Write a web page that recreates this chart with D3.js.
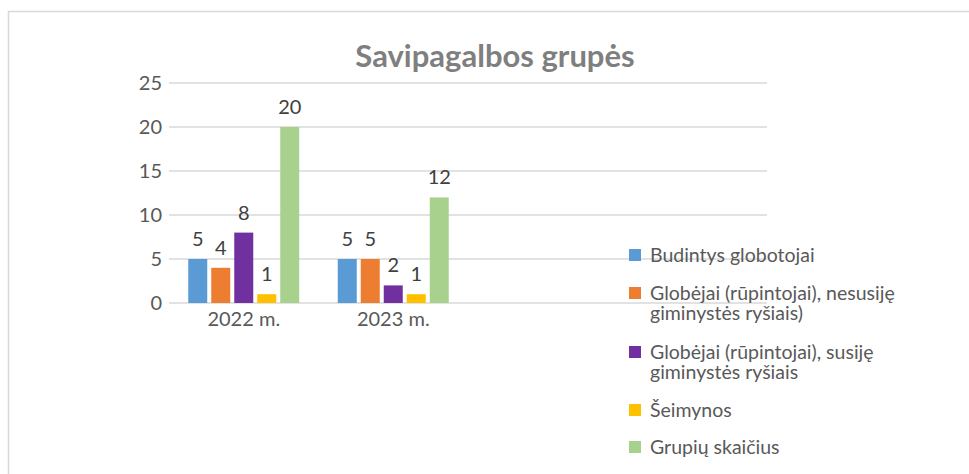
<!DOCTYPE html>
<html>
<head>
<meta charset="utf-8">
<script src="https://cdn.jsdelivr.net/npm/d3@7"></script>
<style>
  body { margin: 0; background: #fff; }
  text { font-family: Lato, "Open Sans", sans-serif; }
</style>
</head>
<body>
<div id="chart-area"></div>
<script>
var categories = ["2022 m.", "2023 m.", "", " "];
var seriesNames = [
    ["Budintys globotojai"],
    ["Globėjai (rūpintojai), nesusiję", "giminystės ryšiais)"],
    ["Globėjai (rūpintojai), susiję", "giminystės ryšiais"],
    ["Šeimynos"],
    ["Grupių skaičius"]
];
var seriesValues = [
    [5, 5],
    [4, 5],
    [8, 2],
    [1, 1],
    [20, 12]
];
var colors = ["#5B9BD5", "#ED7D31", "#7030A0", "#FFC000", "#A9D18E"];
var yTicks = [0, 5, 10, 15, 20, 25];

var W = 969, H = 474;
var margin = {top: 83, left: 169, bottom: 171, right: 202},
    width = W - margin.left - margin.right,
    height = H - margin.top - margin.bottom;

var svg = d3.select("#chart-area").append("svg")
    .attr("width", W)
    .attr("height", H)

// chart border
svg.append("rect")
    .attr("x", 8.5).attr("y", 11.5)
    .attr("width", W + 20).attr("height", H + 20)
    .attr("fill", "none")
    .attr("stroke", "#d9d9d9")
    .attr("stroke-width", 1.5)

svg.append("text")
    .attr("x", 495).attr("y", 67)
    .attr("text-anchor", "middle")
    .attr("font-size", "31px")
    .attr("font-weight", "bold")
    .attr("fill", "#7f7f7f")
    .text("Savipagalbos grupės")

var g = svg.append("g")
    .attr("transform", "translate(" + margin.left + ", " + margin.top + ")");

var x = d3.scaleBand().domain(categories).range([0, width]);
var y = d3.scaleLinear().domain([0, 25]).range([height, 0]);

var barW = 19, barStep = 23;
var groupW = barStep * 4 + barW;

// gridlines
g.selectAll(".grid").data(yTicks).enter().append("line")
    .attr("x1", 0).attr("x2", width)
    .attr("y1", d => y(d)).attr("y2", d => y(d))
    .attr("stroke", "#d9d9d9")
    .attr("stroke-width", 1.5)

var yAxis = g.append("g")
    .call(d3.axisLeft(y).tickValues(yTicks).tickSize(0).tickPadding(7))
yAxis.select(".domain").remove()
yAxis.selectAll("text")
    .attr("font-size", "20px")
    .attr("fill", "#595959")
    .style("font-family", "Lato, sans-serif")

var xAxis = g.append("g")
    .attr("transform", "translate(0, " + height + ")")
    .call(d3.axisBottom(x).tickSize(0).tickPadding(9))
xAxis.select(".domain").remove()
xAxis.selectAll("text")
    .attr("font-size", "20px")
    .attr("fill", "#595959")
    .style("font-family", "Lato, sans-serif")

seriesValues.forEach((vals, si) => {
    var s = g.append("g");
    s.selectAll("rect").data(vals).enter().append("rect")
        .attr("x", (d, i) => x(categories[i]) + x.bandwidth() / 2 - groupW / 2 + si * barStep)
        .attr("y", d => y(d))
        .attr("width", barW)
        .attr("height", d => height - y(d))
        .attr("fill", colors[si])
    s.selectAll("text").data(vals).enter().append("text")
        .attr("x", (d, i) => x(categories[i]) + x.bandwidth() / 2 - groupW / 2 + si * barStep + barW / 2)
        .attr("y", d => y(d) - 13)
        .attr("text-anchor", "middle")
        .attr("font-size", "20px")
        .attr("fill", "#404040")
        .text(d => d)
})

// legend, wrapped lines as separate texts
var legendY = [255, 293, 352, 410, 447];
var legend = svg.append("g")
seriesNames.forEach((lines, i) => {
    legend.append("rect")
        .attr("x", 629).attr("y", legendY[i] - 6)
        .attr("width", 12).attr("height", 12)
        .attr("fill", colors[i])
    lines.forEach((ln, k) => {
        legend.append("text")
            .attr("x", 650).attr("y", legendY[i] + 20 * k)
            .attr("dy", "0.35em")
            .attr("font-size", "19.5px")
            .attr("fill", "#595959")
            .text(ln)
    })
})
</script>
</body>
</html>
